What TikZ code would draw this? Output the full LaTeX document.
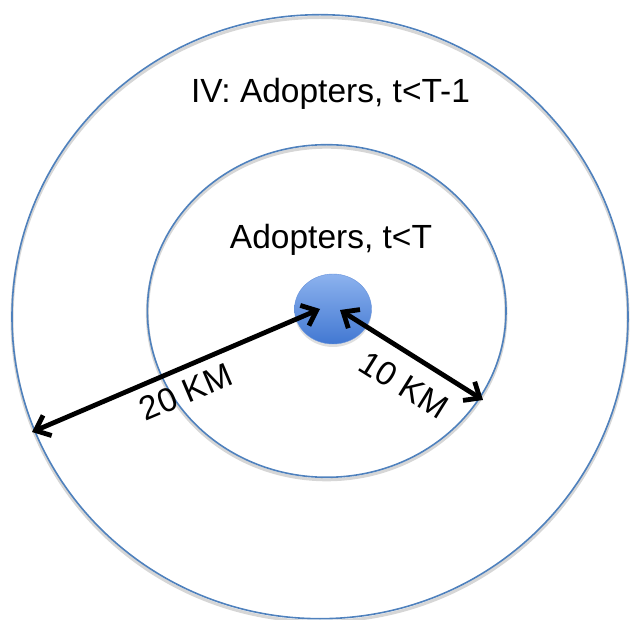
\documentclass[tikz,border=0pt]{standalone}
\usepackage{fontspec}
\setmainfont{Liberation Sans}
\usetikzlibrary{arrows.meta,shapes.geometric,shadows}
\definecolor{ringblue}{RGB}{79,129,189}
\definecolor{hubtop}{RGB}{140,178,238}
\definecolor{hubbot}{RGB}{66,120,210}

\begin{document}
\begin{tikzpicture}[x=1pt,y=-1pt,
	ring/.style={draw=ringblue, line width=1.6pt},
	ringshade/.style={draw=black!16, line width=3pt},
	span/.style={line width=4.8pt, {Straight Barb[length=13pt,width=22pt]}-{Straight Barb[length=13pt,width=22pt]}},
	lbl/.style={font=\fontsize{33.5}{40}\selectfont, inner sep=0pt}]
	\useasboundingbox (0,0) rectangle (630,620);

	% rings, with their soft shadows
	\draw[ringshade] (320,319.5) ellipse (308 and 302);
	\draw[ringshade] (326.7,313.5) ellipse (179.3 and 166.3);
	\draw[ring] (320,316.7) ellipse (308 and 302);
	\draw[ring] (326.7,311) ellipse (179.3 and 166.3);

	% centre
	\node[ellipse, minimum width=77pt, minimum height=70pt, inner sep=0pt,
		top color=hubtop, bottom color=hubbot, draw=hubbot!80,
		drop shadow={opacity=0.25, shadow xshift=0pt, shadow yshift=-3pt}] (hub) at (333,309) {};

	\coordinate (hubL) at (320,309);
	\coordinate (hubR) at (340,310);
	\coordinate (outerL) at (32,432);
	\coordinate (innerR) at (483,400);

	\draw[span] (outerL) -- (hubL);
	\draw[span] (hubR) -- (innerR);

	\node[lbl, rotate=23] (km20) at (186,392) {20 KM};
	\node[lbl, rotate=-32] (km10) at (404,385) {10 KM};

	\node[lbl, anchor=base] (outerlbl) at (330.5,103) {IV: Adopters, t<T-1};
	\node[lbl, anchor=base] (innerlbl) at (331,249) {Adopters, t<T};
\end{tikzpicture}
\end{document}
